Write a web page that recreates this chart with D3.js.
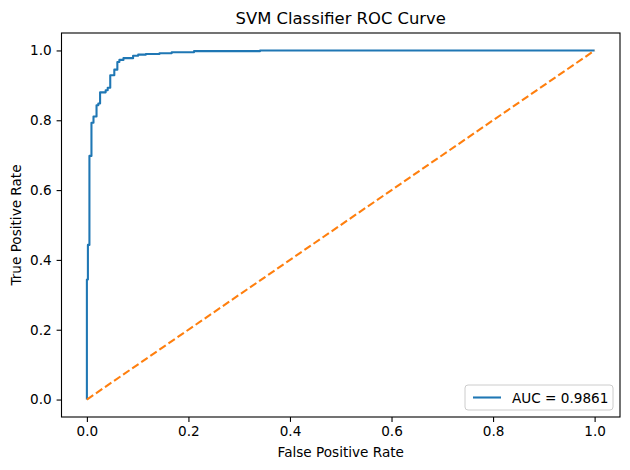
<!DOCTYPE html>
<html>
<head>
<meta charset="utf-8">
<script src="https://cdn.jsdelivr.net/npm/d3@7"></script>
<style>
  html, body { margin: 0; padding: 0; background: #fff; }
  svg { display: block; font-family: "DejaVu Sans", sans-serif; }
</style>
</head>
<body>
<script>
// ---- data ----
const title = "SVM Classifier ROC Curve";
const xLabel = "False Positive Rate";
const yLabel = "True Positive Rate";
const legendLabel = "AUC = 0.9861";
const fpr = [0, 0, 0.002, 0.002, 0.005, 0.005, 0.009, 0.009, 0.013, 0.013, 0.019, 0.019,
  0.0225, 0.0225, 0.026, 0.026, 0.037, 0.037, 0.041, 0.041, 0.046, 0.046, 0.054, 0.054,
  0.060, 0.060, 0.064, 0.064, 0.072, 0.072, 0.091, 0.091, 0.101, 0.101, 0.116, 0.116,
  0.143, 0.143, 0.167, 0.167, 0.211, 0.211, 0.341, 0.341, 1.0];
const tpr = [0, 0.344, 0.344, 0.443, 0.443, 0.698, 0.698, 0.793, 0.793, 0.811, 0.811, 0.843,
  0.843, 0.848, 0.848, 0.880, 0.880, 0.886, 0.886, 0.893, 0.893, 0.929, 0.929, 0.945,
  0.945, 0.967, 0.967, 0.973, 0.973, 0.978, 0.978, 0.985, 0.985, 0.988, 0.988, 0.990,
  0.990, 0.992, 0.992, 0.995, 0.995, 0.998, 0.998, 1.0, 1.0];
const chanceX = [0, 1];
const chanceY = [0, 1];
const xTicks = [0, 0.2, 0.4, 0.6, 0.8, 1.0];
const yTicks = [0, 0.2, 0.4, 0.6, 0.8, 1.0];

// ---- layout ----
const W = 630, H = 470;
const mL = 61.5, mR = 620, mT = 33, mB = 417;
const blue = "#1f77b4", orange = "#ff7f0e";

const svg = d3.select("body").append("svg").attr("width", W).attr("height", H);

const x = d3.scaleLinear().domain([-0.05, 1.05]).range([mL, mR]);
const y = d3.scaleLinear().domain([-0.05, 1.05]).range([mB, mT]);

// lines
const roc = fpr.map((v, i) => [v, tpr[i]]);
const chance = chanceX.map((v, i) => [v, chanceY[i]]);
const line = d3.line().x(d => x(d[0])).y(d => y(d[1]));

svg.append("path").datum(roc).attr("d", line)
  .attr("fill", "none").attr("stroke", blue).attr("stroke-width", 2.08)
  .attr("stroke-linejoin", "round").attr("stroke-linecap", "butt");
svg.append("path").datum(chance).attr("d", line)
  .attr("fill", "none").attr("stroke", orange).attr("stroke-width", 2.08)
  .attr("stroke-dasharray", "7.7,3.3");

// frame
svg.append("rect").attr("x", mL).attr("y", mT)
  .attr("width", mR - mL).attr("height", mB - mT)
  .attr("fill", "none").attr("stroke", "#000").attr("stroke-width", 1.1);

// axes
const fmt = d3.format(".1f");
const xAxis = svg.append("g").attr("transform", `translate(0,${mB})`)
  .call(d3.axisBottom(x).tickValues(xTicks).tickFormat(fmt).tickSizeOuter(0).tickSize(4.9).tickPadding(4.9));
const yAxis = svg.append("g").attr("transform", `translate(${mL},0)`)
  .call(d3.axisLeft(y).tickValues(yTicks).tickFormat(fmt).tickSizeOuter(0).tickSize(4.9).tickPadding(4.9));
[xAxis, yAxis].forEach(g => {
  g.select(".domain").remove();
  g.selectAll(".tick line").attr("stroke", "#000").attr("stroke-width", 1.1);
  g.selectAll(".tick text").attr("font-family", "DejaVu Sans").attr("font-size", 13.6).attr("fill", "#000");
});

// labels
svg.append("text").attr("x", (mL + mR) / 2).attr("y", 24)
  .attr("text-anchor", "middle").attr("font-size", 16.4).attr("fill", "#000").text(title);
svg.append("text").attr("x", (mL + mR) / 2).attr("y", 457)
  .attr("text-anchor", "middle").attr("font-size", 13.6).attr("fill", "#000").text(xLabel);
svg.append("text").attr("transform", `translate(21,${(mT + mB) / 2}) rotate(-90)`)
  .attr("text-anchor", "middle").attr("font-size", 13.6).attr("fill", "#000").text(yLabel);

// legend
const lgW = 148, lgH = 25;
const lgX = mR - 7 - lgW, lgY = mB - 7 - lgH;
const lg = svg.append("g");
lg.append("rect").attr("x", lgX).attr("y", lgY).attr("width", lgW).attr("height", lgH)
  .attr("rx", 3).attr("fill", "#fff").attr("fill-opacity", 0.8)
  .attr("stroke", "#cccccc").attr("stroke-width", 1);
lg.append("line").attr("x1", lgX + 8).attr("x2", lgX + 36)
  .attr("y1", lgY + lgH / 2).attr("y2", lgY + lgH / 2)
  .attr("stroke", blue).attr("stroke-width", 2.08);
lg.append("text").attr("x", lgX + 47).attr("y", lgY + lgH / 2 + 5)
  .attr("font-size", 13.6).attr("fill", "#000").text(legendLabel);
</script>
</body>
</html>
